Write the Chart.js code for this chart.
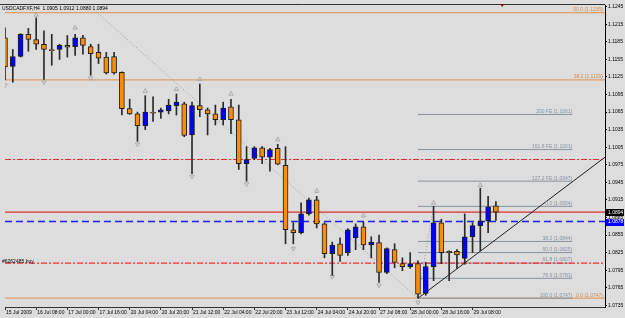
<!DOCTYPE html>
<html lang="en">
<head>
<meta charset="UTF-8" />
<title>USDCADFXF H4</title>
<script src="https://cdn.jsdelivr.net/npm/chart.js"></script>
<style>
  html, body { margin: 0; padding: 0; background: #dddddd; overflow: hidden; }
  canvas { display: block; }
</style>
</head>
<body>
<canvas id="mainChart" width="625" height="318"></canvas>
<script>
  // H4 candles, one entry per bar (bar index = position in array)
  const opens = [1.1192,1.1143,1.1160,1.1198,1.1189,1.1181,1.1171,1.1172,1.1179,1.1177,
    1.1192,1.1177,1.1167,1.1159,1.1160,1.1133,1.1071,1.1062,1.1042,1.1064,
    1.1065,1.1067,1.1076,1.1079,1.1026,1.1076,1.1069,1.1062,1.1052,1.1074,
    1.1052,1.0977,1.0986,1.1004,1.0988,1.1003,1.0974,1.0864,1.0859,1.0891,
    1.0915,1.0874,1.0823,1.0840,1.0825,1.0850,1.0869,1.0838,1.0842,1.0791,
    1.0830,1.0806,1.0801,1.0806,1.0755,1.0801,1.0876,1.0827,1.0827,1.0815,
    1.0852,1.0871,1.0879,1.0905];
  const highs = [1.1209,1.1172,1.1199,1.1208,1.1226,1.1204,1.1198,1.1181,1.1196,1.1198,
    1.1196,1.1181,1.1181,1.1167,1.1167,1.1134,1.1087,1.1065,1.1093,1.1091,
    1.1072,1.1087,1.1096,1.1082,1.1082,1.1113,1.1072,1.1077,1.1082,1.1087,
    1.1077,1.1006,1.1006,1.1006,1.1003,1.1010,1.1006,1.0876,1.0910,1.0918,
    1.0921,1.0876,1.0843,1.0850,1.0866,1.0874,1.0877,1.0852,1.0855,1.0833,
    1.0840,1.0816,1.0825,1.0811,1.0808,1.0904,1.0882,1.0828,1.0830,1.0891,
    1.0876,1.0935,1.0921,1.0912];
  const lows = [1.1120,1.1116,1.1159,1.1169,1.1172,1.1121,1.1145,1.1155,1.1159,1.1162,
    1.1164,1.1128,1.1148,1.1130,1.1130,1.1060,1.1061,1.1015,1.1035,1.1049,
    1.1054,1.1062,1.1060,1.1023,1.0960,1.1057,1.1026,1.1043,1.1043,1.1028,
    1.0967,1.0947,1.0984,1.0977,1.0964,1.0975,1.0840,1.0840,1.0857,1.0889,
    1.0867,1.0816,1.0786,1.0810,1.0820,1.0830,1.0830,1.0816,1.0774,1.0789,
    1.0799,1.0794,1.0798,1.0747,1.0752,1.0777,1.0806,1.0777,1.0798,1.0805,
    1.0825,1.0828,1.0859,1.0880];
  const closes = [1.1142,1.1160,1.1198,1.1189,1.1181,1.1172,1.1170,1.1179,1.1176,1.1192,
    1.1179,1.1165,1.1157,1.1132,1.1132,1.1071,1.1062,1.1042,1.1065,1.1063,
    1.1069,1.1077,1.1082,1.1025,1.1076,1.1069,1.1062,1.1052,1.1072,1.1052,
    1.0977,1.0984,1.1004,1.0988,1.1001,1.0976,1.0864,1.0859,1.0891,1.0915,
    1.0874,1.0823,1.0838,1.0820,1.0864,1.0869,1.0838,1.0843,1.0791,1.0832,
    1.0808,1.0801,1.0806,1.0754,1.0801,1.0876,1.0825,1.0825,1.0821,1.0852,
    1.0871,1.0879,1.0903,1.0894];

  const symbol = 'USDCADFXF';
  const timeframe = 'H4';

  const dateBars = [0,4,8,12,16,20,24,28,32,36,40,44,48,52,56,60];
  const dateLabels = ['15 Jul 2009','16 Jul 08:00','17 Jul 00:00','17 Jul 16:00','20 Jul 04:00','20 Jul 20:00',
    '21 Jul 12:00','22 Jul 04:00','22 Jul 20:00','23 Jul 12:00','24 Jul 04:00','24 Jul 20:00',
    '27 Jul 08:00','28 Jul 00:00','28 Jul 16:00','29 Jul 08:00'];
  const yTicks = [1.1245,1.1215,1.1185,1.1155,1.1125,1.1095,1.1065,1.1035,1.1005,1.0975,
    1.0945,1.0915,1.0885,1.0855,1.0825,1.0795,1.0765,1.0735];

  // fractals
  const fractalUpBars = [4, 9, 18, 22, 25, 29, 35, 40, 46, 55, 61];
  const fractalUpPrices = [1.1231,1.1209,1.1101,1.1104,1.1121,1.1096,1.1018,1.0930,1.0888,1.0910,1.0940];
  const fractalDownBars = [0, 5, 11, 17, 24, 31, 37, 42, 48, 53];
  const fractalDownPrices = [1.1111,1.1116,1.1123,1.1010,1.0955,1.0942,1.0832,1.0784,1.0769,1.0740];

  // fibo retracement / expansion on the last swing
  const fibLevels = [1.1061, 1.1001, 1.0947, 1.0904, 1.0844, 1.0825, 1.0807, 1.0781, 1.0747];
  const fibTexts = ['200 FE (1.1061)','161.8 FE (1.1001)','127.2 FE (1.0947)','0.0 (1.0904)',
    '38.2 (1.0844)','50.0 (1.0825)','61.8 (1.0807)','78.6 (1.0781)','100.0 (1.0747)'];
  const fibBars = [53, 72.8];

  // big fibo (full width)
  const bigFibLevels = [1.1235, 1.1120, 1.0747];
  const bigFibTexts = ['50.0 (1.1235)', '38.2 (1.1120)', '0.0 (1.0747)'];

  // order / price lines
  const stopLevels = [1.0984, 1.0807];
  const bidPrice = 1.0894;
  const orderPrice = 1.0878;
  const orderText = '#6262485 buy';

  // drawn lines
  const swingLineBars = [10.8, 53, 55];
  const swingLinePrices = [1.1247, 1.0747, 1.0904];
  const trendBars = [53, 77];
  const trendPrices = [1.0747, 1.0988];

  const shiftBar = 63.8;
  const xMin = 0, xMax = 77;

  const ORANGE = '#ff8c00', BLUE = '#0000ff';
  const FIB_GRAY = '#8793a0', FIB_ORANGE = '#dea06a';

  const hline = v => [{ x: xMin, y: v }, { x: xMax, y: v }];
  const lineDs = (data, color, dash, order, width) => ({
    type: 'line', data, borderColor: color, borderWidth: width || 1, borderDash: dash || [],
    pointRadius: 0, fill: false, order: order, tension: 0
  });

  const datasets = [];
  datasets.push({
    type: 'bar',
    data: opens.map((o, i) => ({ x: i, y: [o, closes[i]] })),
    backgroundColor: opens.map((o, i) => closes[i] >= o ? BLUE : ORANGE),
    borderColor: '#1e1e1e', borderWidth: 1, borderSkipped: false,
    barThickness: 5, minBarLength: 1, grouped: false, order: 0
  });
  datasets.push({
    type: 'bar',
    data: lows.map((l, i) => ({ x: i, y: [l, highs[i]] })),
    backgroundColor: '#2a2a2a', borderWidth: 0,
    barThickness: 1, grouped: false, order: 1
  });
  datasets.push({
    type: 'line', showLine: false,
    data: fractalUpBars.map((b, i) => ({ x: b, y: fractalUpPrices[i] })),
    pointStyle: 'triangle', pointRadius: 2.5, pointBorderWidth: 1,
    pointBorderColor: '#aaaaaa', pointBackgroundColor: 'rgba(0,0,0,0)', order: 2
  });
  datasets.push({
    type: 'line', showLine: false,
    data: fractalDownBars.map((b, i) => ({ x: b, y: fractalDownPrices[i] })),
    pointStyle: 'triangle', pointRotation: 180, pointRadius: 2.5, pointBorderWidth: 1,
    pointBorderColor: '#aaaaaa', pointBackgroundColor: 'rgba(0,0,0,0)', order: 2
  });
  bigFibLevels.forEach(v => datasets.push(lineDs(hline(v), FIB_ORANGE, null, 6, 1.2)));
  fibLevels.forEach(v => datasets.push(lineDs([{ x: fibBars[0], y: v }, { x: fibBars[1], y: v }], FIB_GRAY, null, 5)));
  stopLevels.forEach(v => datasets.push(lineDs(hline(v), 'rgb(255,40,40)', [6, 2, 2, 2], 4, 1.2)));
  datasets.push(lineDs(hline(bidPrice), 'rgb(215,50,50)', null, 4, 1.2));
  datasets.push(lineDs(hline(orderPrice), 'rgb(30,30,255)', [7, 4], 4, 1.5));
  datasets.push(lineDs(swingLineBars.map((b, i) => ({ x: b, y: swingLinePrices[i] })), '#9a9a9a', [1, 2], 3));
  datasets.push(lineDs(trendBars.map((b, i) => ({ x: b, y: trendPrices[i] })), '#202020', null, 3));

  const overlay = {
    id: 'overlay',
    afterDatasetsDraw(chart) {
      const { ctx, chartArea: a, scales: { x, y } } = chart;
      ctx.save();
      // frame top
      ctx.strokeStyle = '#333';
      ctx.lineWidth = 1;
      ctx.beginPath();
      ctx.moveTo(0, a.top - 0.5);
      ctx.lineTo(a.right, a.top - 0.5);
      ctx.stroke();

      ctx.font = '5px "Liberation Sans"';
      ctx.textBaseline = 'bottom';
      ctx.textAlign = 'right';
      ctx.fillStyle = FIB_GRAY;
      fibLevels.forEach((v, i) => ctx.fillText(fibTexts[i], x.getPixelForValue(fibBars[1]), y.getPixelForValue(v) - 0.5));
      ctx.fillStyle = '#d08a4a';
      bigFibLevels.forEach((v, i) => ctx.fillText(bigFibTexts[i], a.right - 2, y.getPixelForValue(v) - 0.5));

      ctx.textAlign = 'left';
      ctx.fillStyle = '#000';
      ctx.fillText(orderText, 2, y.getPixelForValue(stopLevels[1]) + 1);

      const n = opens.length - 1;
      const header = symbol + ',' + timeframe + '  ' + [opens[n], highs[n], lows[n], closes[n]].map(v => v.toFixed(4)).join(' ');
      ctx.textBaseline = 'top';
      ctx.fillText(header, 2, a.top + 1);

      // price boxes on the axis
      ctx.textBaseline = 'middle';
      [[bidPrice, '#000'], [orderPrice, BLUE]].forEach(([p, c]) => {
        const py = y.getPixelForValue(p);
        ctx.fillStyle = c;
        ctx.fillRect(a.right + 1, Math.round(py) - 3, 18, 7);
        ctx.fillStyle = '#fff';
        ctx.fillText(p.toFixed(4), a.right + 3, py + 0.5);
      });

      // chart shift marker
      const sx = x.getPixelForValue(shiftBar);
      ctx.fillStyle = '#8b0000';
      ctx.beginPath();
      ctx.moveTo(sx - 2, a.top - 1);
      ctx.lineTo(sx + 2, a.top - 1);
      ctx.lineTo(sx, a.top + 2);
      ctx.closePath();
      ctx.fill();
      ctx.restore();
    }
  };

  Chart.defaults.font.family = '"Liberation Sans", sans-serif';
  Chart.defaults.font.size = 5;
  Chart.defaults.color = '#000';

  new Chart(document.getElementById('mainChart').getContext('2d'), {
    type: 'bar',
    data: { datasets },
    options: {
      responsive: false,
      animation: false,
      layout: { padding: { top: 2, left: 0, right: 0, bottom: 0 } },
      plugins: { legend: { display: false }, tooltip: { enabled: false } },
      scales: {
        x: {
          type: 'linear', min: xMin, max: xMax, offset: false,
          grid: { drawOnChartArea: false, drawTicks: true, tickLength: 3, color: '#333', offset: false },
          border: { display: true, color: '#333' },
          afterBuildTicks: s => { s.ticks = dateBars.map(v => ({ value: v })); },
          ticks: {
            autoSkip: false, maxRotation: 0, align: 'start', padding: 0, labelOffset: 1,
            callback: v => dateLabels[dateBars.indexOf(v)]
          },
          afterFit: s => { s.height = 11; }
        },
        y: {
          type: 'linear', position: 'right', min: 1.0732, max: 1.1248,
          grid: { drawOnChartArea: false, tickLength: 2, color: '#000' },
          border: { display: true, color: '#000' },
          afterBuildTicks: s => { s.ticks = yTicks.map(v => ({ value: v })); },
          ticks: { padding: 1, callback: v => v.toFixed(4) },
          afterFit: s => { s.width = 20; }
        }
      }
    },
    plugins: [overlay]
  });
</script>
</body>
</html>
